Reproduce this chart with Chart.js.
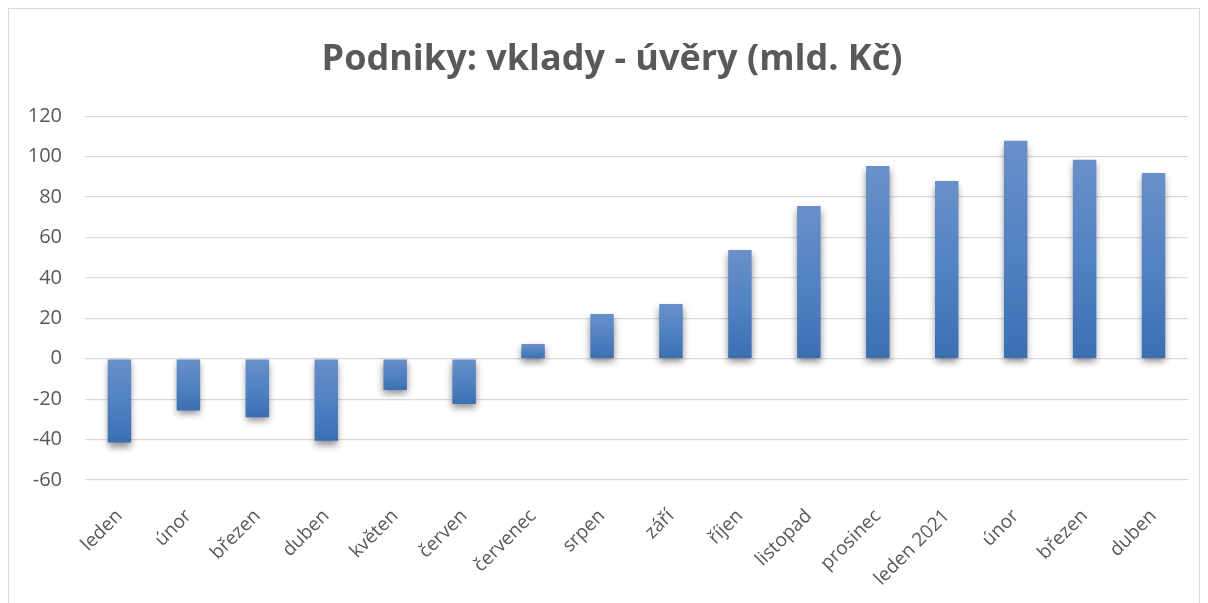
<!DOCTYPE html>
<html>
<head>
<meta charset="utf-8">
<script src="https://cdn.jsdelivr.net/npm/chart.js@4"></script>
<style>
  html, body { margin: 0; padding: 0; background: #fff; }
  #wrap { position: relative; width: 1208px; height: 603px; }
  #frame { position: absolute; left: 8px; top: 8px; width: 1192px; height: 600px;
           border: 1px solid #d9d9d9; box-sizing: border-box; }
  canvas { position: absolute; left: 0; top: 0; }
</style>
</head>
<body>
<div id="wrap">
  <div id="frame"></div>
  <canvas id="myChart" width="1208" height="603"></canvas>
</div>
<script>
// months (Jan 2020 - Apr 2021)
var labels = ["leden", "únor", "březen", "duben", "květen", "červen", "červenec", "srpen",
              "září", "říjen", "listopad", "prosinec", "leden 2021", "únor", "březen", "duben"];
// deposits minus loans, bn CZK
var values = [-41.5, -25.6, -28.9, -40.6, -15.5, -22.4, 7.3, 22.1,
              27.1, 53.8, 75.6, 95.4, 88, 107.8, 98.4, 91.9];
var yTicks = [-60, -40, -20, 0, 20, 40, 60, 80, 100, 120];

var textColor = "#595959";

// blue gradient per bar, lighter on top
function barFill(context)
{
  var chart = context.chart;
  var y = chart.scales.y;
  if (!y || !chart.chartArea) return "#4f81c4";
  var v = context.raw;
  var top = y.getPixelForValue(Math.max(v, 0));
  var bottom = y.getPixelForValue(Math.min(v, 0));
  if (!isFinite(top) || !isFinite(bottom) || top === bottom) return "#4f81c4";
  var g = chart.ctx.createLinearGradient(0, top, 0, bottom);
  g.addColorStop(0, "#6a90c8");
  g.addColorStop(0.5, "#5082c4");
  g.addColorStop(1, "#3c6fb1");
  return g;
}

var shadowPlugin = {
  id: "barShadow",
  beforeDatasetsDraw: function(chart) {
    var ctx = chart.ctx;
    ctx.save();
    ctx.shadowColor = "rgba(0,0,0,0.45)";
    ctx.shadowBlur = 7;
    ctx.shadowOffsetX = 0;
    ctx.shadowOffsetY = 4;
  },
  afterDatasetsDraw: function(chart) {
    chart.ctx.restore();
  }
};

// title sits a little right of the canvas centre
var titleShift = {
  id: "titleShift",
  afterLayout: function(chart) {
    if (chart.titleBlock) {
      chart.titleBlock.left += 18;
      chart.titleBlock.right += 18;
    }
  }
};

var ctx = document.getElementById("myChart").getContext("2d");
var chart = new Chart(ctx, {
  type: "bar",
  data: {
    labels: labels,
    datasets: [{
      label: "vklady - úvěry",
      data: values,
      backgroundColor: barFill,
      borderWidth: 0,
      categoryPercentage: 1,
      barPercentage: 0.34
    }]
  },
  options: {
    responsive: false,
    animation: false,
    layout: { padding: { left: 0, right: 20, top: 0, bottom: 0 } },
    plugins: {
      legend: { display: false },
      tooltip: { enabled: false },
      title: {
        display: true,
        text: "Podniky: vklady - úvěry (mld. Kč)",
        color: textColor,
        font: { family: "'Open Sans'", size: 36, weight: "bold", lineHeight: 1.2 },
        padding: { top: 38, bottom: 35 }
      }
    },
    scales: {
      x: {
        grid: { display: false },
        border: { display: false },
        ticks: {
          color: textColor,
          font: { family: "'Open Sans'", size: 19 },
          minRotation: 45,
          maxRotation: 45,
          autoSkip: false,
          padding: 17
        },
        afterFit: function(s) { s.height = 123; }
      },
      y: {
        min: -60,
        max: 120,
        afterBuildTicks: function(s) { s.ticks = yTicks.map(function(v) { return { value: v }; }); },
        grid: { color: "#d9d9d9", lineWidth: 1.3, drawTicks: false },
        border: { display: false },
        ticks: {
          color: textColor,
          font: { family: "'Open Sans'", size: 20 },
          padding: 23
        },
        afterFit: function(s) { s.width = 85; }
      }
    }
  },
  plugins: [shadowPlugin, titleShift]
});
</script>
</body>
</html>
